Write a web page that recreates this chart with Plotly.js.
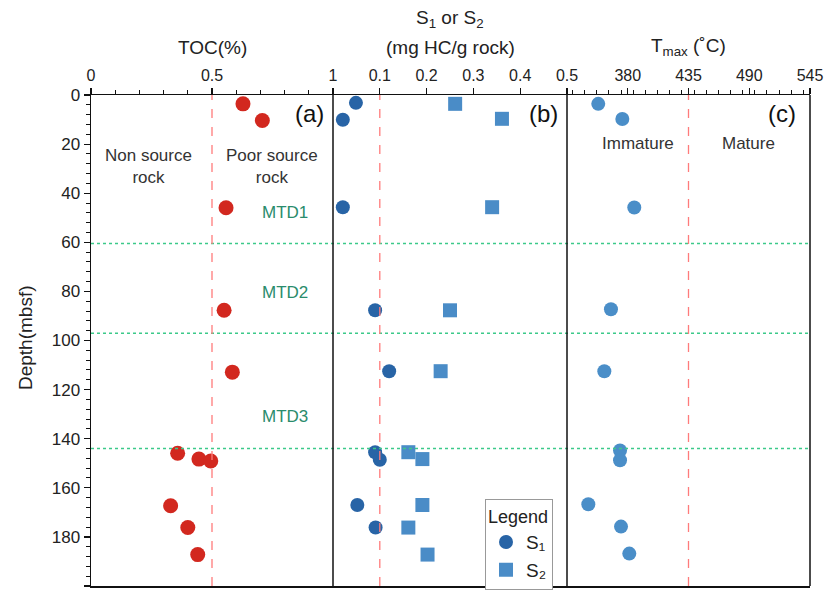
<!DOCTYPE html>
<html>
<head>
<meta charset="utf-8">
<script src="https://cdn.plot.ly/plotly-3.0.1.min.js"></script>
<style>html,body{margin:0;padding:0;background:#fff;}#chart{width:828px;height:594px;}</style>
</head>
<body>
<div id="chart"></div>
<script>
// Panel (a): TOC
const tocDepth = [3.6, 10.4, 45.9, 87.7, 112.9, 145.9, 148.3, 149.1, 167.3, 176.2, 187.2];
const tocValue = [0.628, 0.708, 0.558, 0.55, 0.584, 0.358, 0.446, 0.495, 0.329, 0.40, 0.441];
// Panel (b): S1 and S2
const s1Depth = [3.2, 10.1, 45.7, 87.7, 112.5, 145.5, 148.6, 167.0, 176.2];
const s1Value = [0.049, 0.021, 0.021, 0.090, 0.120, 0.090, 0.100, 0.052, 0.091];
const s2Depth = [3.6, 9.7, 45.7, 87.7, 112.5, 145.5, 148.3, 167.0, 176.2, 187.2];
const s2Value = [0.261, 0.361, 0.340, 0.250, 0.230, 0.161, 0.191, 0.191, 0.161, 0.202];
// Panel (c): Tmax
const tmaxDepth = [3.6, 9.8, 45.8, 87.3, 112.5, 144.8, 148.8, 166.7, 175.8, 186.8];
const tmaxValue = [353.3, 375.1, 385.9, 364.8, 358.8, 373, 373, 344.3, 373.9, 381.4];
// Reference lines and tick labels
const mtdBoundaries = [60.5, 97, 144];
const tocThreshold = 0.5, sThreshold = 0.1, tmaxThreshold = 435;
const tocTicks = [0, 0.5, 1];
const sTicks = [0.1, 0.2, 0.3, 0.4, 0.5];
const tmaxTicks = [380, 435, 490, 545];
const depthTicks = [0, 20, 40, 60, 80, 100, 120, 140, 160, 180, 200];

const FONT = 'Liberation Sans, Arial, sans-serif';
const traces = [
  {x: tocValue, y: tocDepth, xaxis: 'x', yaxis: 'y', type: 'scatter', mode: 'markers',
   marker: {color: '#d2281f', size: 15}, showlegend: false},
  {x: s1Value, y: s1Depth, xaxis: 'x2', yaxis: 'y', type: 'scatter', mode: 'markers', name: 'S₁',
   marker: {color: '#2864a6', size: 14, symbol: 'circle'}},
  {x: s2Value, y: s2Depth, xaxis: 'x2', yaxis: 'y', type: 'scatter', mode: 'markers', name: 'S₂',
   marker: {color: '#4a8cc7', size: 14, symbol: 'square'}},
  {x: tmaxValue, y: tmaxDepth, xaxis: 'x3', yaxis: 'y', type: 'scatter', mode: 'markers',
   marker: {color: '#4a8ec8', size: 14}, showlegend: false}
];

const d1 = 242/719, d2 = 476/719;
function xax(domain, range, ticks, minorDt) {
  const a = {domain: domain, range: range, side: 'top', anchor: 'y', showgrid: false, zeroline: false,
    showline: true, linecolor: '#111', linewidth: 1.5, mirror: true,
    ticks: 'outside', ticklen: 6, tickwidth: 1.2, tickcolor: '#111',
    tickmode: 'array', tickvals: ticks, ticktext: ticks.map(String),
    tickfont: {family: FONT, size: 16, color: '#222'}, fixedrange: true};
  if (minorDt) a.minor = {dtick: minorDt, ticks: 'outside', ticklen: 4, tickcolor: '#111', tickwidth: 1, showgrid: false};
  return a;
}

const shapes = [];
mtdBoundaries.forEach(d => shapes.push({type: 'line', xref: 'paper', x0: 0, x1: 1, yref: 'y', y0: d, y1: d,
  line: {color: '#3cc98a', width: 1.5, dash: 'dot'}}));
shapes.push({type: 'line', xref: 'x', x0: tocThreshold, x1: tocThreshold, yref: 'paper', y0: 0, y1: 1, line: {color: '#ff7b7b', width: 1.3, dash: 'dash'}});
shapes.push({type: 'line', xref: 'x2', x0: sThreshold, x1: sThreshold, yref: 'paper', y0: 0, y1: 1, line: {color: '#ff7b7b', width: 1.3, dash: 'dash'}});
shapes.push({type: 'line', xref: 'x3', x0: tmaxThreshold, x1: tmaxThreshold, yref: 'paper', y0: 0, y1: 1, line: {color: '#ff7b7b', width: 1.3, dash: 'dash'}});
[d1, d2, 1].forEach(p => shapes.push({type: 'line', xref: 'paper', x0: p, x1: p, yref: 'paper', y0: 0, y1: 1, line: {color: '#111', width: 1.5}}));

function ann(text, xref, x, y, size, color, extra) {
  return Object.assign({text: text, xref: xref, x: x, yref: 'y', y: y, showarrow: false,
    xanchor: 'center', yanchor: 'middle',
    font: {family: FONT, size: size, color: color}}, extra || {});
}
const pY = py => (590 - py) / 495;
function headerText(text, xref, py) {
  return {text: text, xref: xref, x: 0.5, xanchor: 'center', yref: 'paper', y: pY(py), yanchor: 'middle',
    showarrow: false, font: {family: FONT, size: 19, color: '#222'}};
}
const annotations = [
  ann('Non source<br>rock', 'x', 0.236, 29, 17, '#333'),
  ann('Poor source<br>rock', 'x', 0.748, 29, 17, '#333'),
  ann('MTD1', 'x', 0.80, 47.7, 17, '#2a8c6c'),
  ann('MTD2', 'x', 0.80, 80.4, 17, '#2a8c6c'),
  ann('MTD3', 'x', 0.80, 131, 17, '#2a8c6c'),
  ann('Immature', 'x3', 389, 19.8, 17, '#333'),
  ann('Mature', 'x3', 489, 19.8, 17, '#333'),
  ann('(a)', 'x domain', 0.97, 7.5, 24, '#111', {xanchor: 'right'}),
  ann('(b)', 'x2 domain', 0.97, 7.5, 24, '#111', {xanchor: 'right'}),
  ann('(c)', 'x3 domain', 0.95, 7.5, 24, '#111', {xanchor: 'right'}),
  headerText('TOC(%)', 'x domain', 47),
  headerText('S<sub>1</sub> or S<sub>2</sub>', 'x2 domain', 18),
  headerText('(mg HC/g rock)', 'x2 domain', 47),
  headerText('T<sub>max</sub> (˚C)', 'x3 domain', 47),
  {text: 'Depth(mbsf)', xref: 'paper', x: (25 - 91) / 719, xanchor: 'center', yref: 'paper', y: pY(340), yanchor: 'middle',
   textangle: -90, showarrow: false, font: {family: FONT, size: 19, color: '#222'}}
];

const layout = {
  width: 828, height: 594,
  margin: {l: 91, r: 18, t: 95, b: 4},
  paper_bgcolor: '#fff', plot_bgcolor: '#fff',
  font: {family: FONT},
  xaxis: xax([0, d1], [0, 1], tocTicks, 0.1),
  xaxis2: xax([d1, d2], [0, 0.5], sTicks, null),
  xaxis3: xax([d2, 1], [325, 545], tmaxTicks, 11),
  yaxis: {range: [200, 0], showgrid: false, zeroline: false, showline: true, linecolor: '#111', linewidth: 1.5,
    ticks: 'outside', ticklen: 6, tickwidth: 1.2, tickcolor: '#111', tickmode: 'array', tickvals: depthTicks,
    tickfont: {family: FONT, size: 17, color: '#222'}, anchor: 'x', fixedrange: true,
    minor: {dtick: 4, ticks: 'outside', ticklen: 4, tickcolor: '#111', tickwidth: 1, showgrid: false}},
  showlegend: true,
  legend: {x: (485 - 91) / 719, xanchor: 'left', y: pY(502), yanchor: 'top',
    bgcolor: '#fff', bordercolor: '#999', borderwidth: 1,
    title: {text: 'Legend', font: {family: FONT, size: 18, color: '#222'}, side: 'top'},
    font: {family: FONT, size: 19, color: '#222'}, itemwidth: 30, tracegroupgap: 2},
  shapes: shapes,
  annotations: annotations
};

Plotly.newPlot('chart', traces, layout, {displayModeBar: false, staticPlot: true});
</script>
</body>
</html>
